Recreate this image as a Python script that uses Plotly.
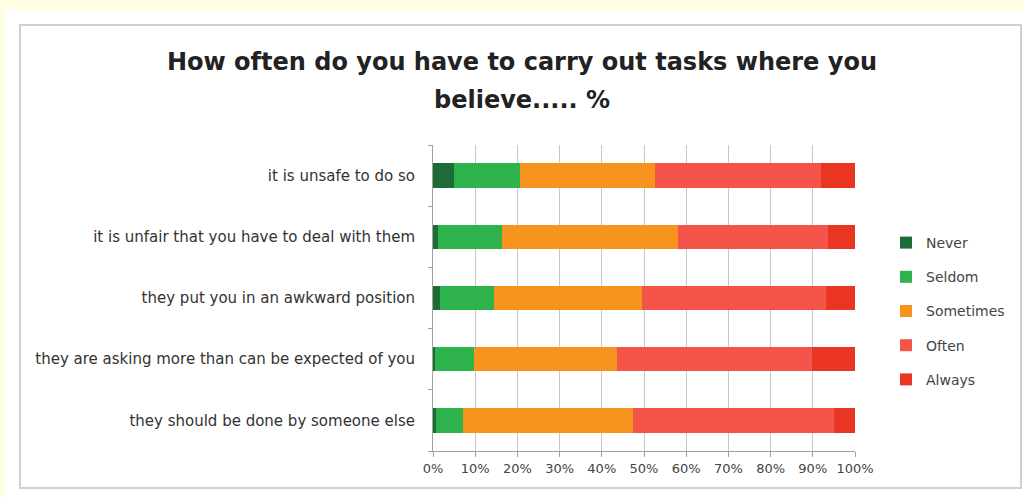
import plotly.graph_objects as go

categories = [
    "it is unsafe to do so",
    "it is unfair that you have to deal with them",
    "they put you in an awkward position",
    "they are asking more than can be expected of you",
    "they should be done by someone else",
]
series_names = ["Never", "Seldom", "Sometimes", "Often", "Always"]
never = [5.0, 1.2, 1.7, 0.5, 0.8]
seldom = [15.5, 15.1, 12.8, 9.2, 6.2]
sometimes = [32.0, 41.7, 35.0, 33.9, 40.4]
often = [39.5, 35.6, 43.6, 46.2, 47.6]
always = [8.0, 6.4, 6.9, 10.2, 5.0]
tick_vals = [0, 10, 20, 30, 40, 50, 60, 70, 80, 90, 100]
tick_text = ["0%", "10%", "20%", "30%", "40%", "50%", "60%", "70%", "80%", "90%", "100%"]
title_lines = ["How often do you have to carry out tasks where you", "believe..... %"]

colors = ["#1f6b37", "#2eb34c", "#f7931f", "#f5544a", "#ea3522"]
values = [never, seldom, sometimes, often, always]

W, H = 1024, 498
L, R, T, B = 433, 169, 145, 47
pw, ph = W - L - R, H - T - B
FONT = "DejaVu Sans, Verdana, sans-serif"

def px(x):
    return (x - L) / pw

def py(y):
    return (H - B - y) / ph

fig = go.Figure()
for name, vals, c in zip(series_names, values, colors):
    fig.add_trace(go.Bar(
        y=categories, x=vals, name=name, orientation="h",
        marker=dict(color=c, line=dict(width=0)),
        legendgroup=name,
    ))

fig.update_layout(
    width=W, height=H,
    barmode="stack", bargap=0.6,
    paper_bgcolor="#fffde2", plot_bgcolor="white",
    margin=dict(l=L, r=R, t=T, b=B, autoexpand=False),
    font=dict(family=FONT, color="#333333", size=13),
    xaxis=dict(
        range=[0, 100], tickvals=tick_vals, ticktext=tick_text,
        showgrid=True, gridcolor="#c8c8c8", gridwidth=1,
        showline=True, linecolor="#a0a0a0", linewidth=1,
        ticks="outside", ticklen=5, tickcolor="#a0a0a0",
        tickfont=dict(size=13, color="#444444"),
        zeroline=False, fixedrange=True,
    ),
    yaxis=dict(
        categoryorder="array", categoryarray=categories[::-1],
        showline=True, linecolor="#a0a0a0", linewidth=1,
        ticks="outside", tickson="boundaries", ticklen=4, tickcolor="#a0a0a0",
        tickfont=dict(size=15, color="#333333"),
        ticklabelstandoff=14, fixedrange=True,
    ),
    legend=dict(
        x=px(886), xanchor="left", y=py(227), yanchor="top",
        font=dict(size=14, color="#444444"),
        tracegroupgap=13, itemwidth=30, traceorder="grouped",
        bgcolor="rgba(0,0,0,0)",
    ),
    shapes=[
        dict(type="rect", xref="paper", yref="paper",
             x0=px(5), x1=px(1024), y0=py(498), y1=py(10),
             fillcolor="white", line=dict(width=0), layer="below"),
        dict(type="rect", xref="paper", yref="paper",
             x0=px(20), x1=px(1021), y0=py(488), y1=py(25),
             fillcolor="rgba(0,0,0,0)", line=dict(color="#d0d0d0", width=2), layer="below"),
    ],
    annotations=[
        dict(text="<b>%s</b>" % title_lines[0], xref="paper", yref="paper",
             x=px(522), y=py(62), xanchor="center", yanchor="middle", showarrow=False,
             font=dict(size=24, color="#222222", family=FONT)),
        dict(text="<b>%s</b>" % title_lines[1], xref="paper", yref="paper",
             x=px(522), y=py(100), xanchor="center", yanchor="middle", showarrow=False,
             font=dict(size=24, color="#222222", family=FONT)),
    ],
)

fig.write_html(
    "out.html",
    config={"displayModeBar": False},
    post_script="document.body.style.margin='0';document.body.style.background='#fffde2';",
)
